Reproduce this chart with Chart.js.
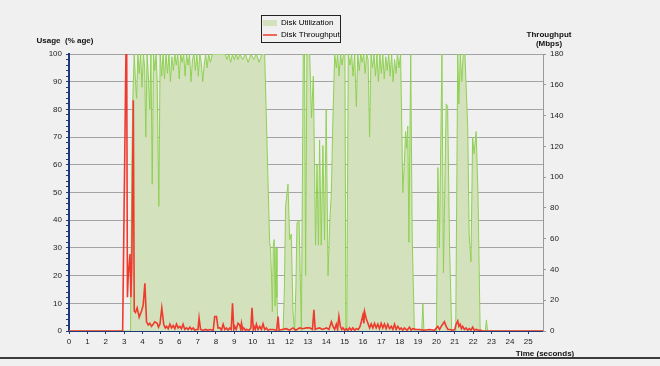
<!DOCTYPE html>
<html>
<head>
<meta charset="utf-8">
<script src="https://cdn.jsdelivr.net/npm/chart.js@4.4.1/dist/chart.umd.min.js"></script>
<style>
    html, body { margin: 0; padding: 0; background: #f0f0f0; }
    #wrap { position: relative; width: 660px; height: 366px; overflow: hidden; }
    #diskChart { position: absolute; left: 0; top: 0; }
    .axis-title { position: absolute; font: bold 8px "Liberation Sans", Arial, sans-serif; color: #111; text-align: center; white-space: nowrap; line-height: 9px; }
    #bottomRule { position: absolute; left: 0; top: 357px; width: 660px; height: 2px; background: #3c3c3c; }
</style>
</head>
<body>
<div id="wrap">
    <canvas id="diskChart" width="660" height="366"></canvas>
    <div class="axis-title" style="left:30px;top:36px;width:70px">Usage&nbsp; (% age)</div>
    <div class="axis-title" style="left:519px;top:30px;width:60px">Throughput<br>(Mbps)</div>
    <div class="axis-title" style="left:510px;top:349px;width:70px">Time (seconds)</div>
    <div id="bottomRule"></div>
</div>
<script>
// --- data (time in seconds) ---
const secondTicks = [0, 1, 2, 3, 4, 5, 6, 7, 8, 9, 10, 11, 12, 13, 14, 15, 16, 17, 18, 19, 20, 21, 22, 23, 24, 25];
const usageTicks = [0, 2, 4, 6, 8, 10, 12, 14, 16, 18, 20, 22, 24, 26, 28, 30, 32, 34, 36, 38, 40, 42, 44, 46, 48, 50,
    52, 54, 56, 58, 60, 62, 64, 66, 68, 70, 72, 74, 76, 78, 80, 82, 84, 86, 88, 90, 92, 94, 96, 98, 100];
const throughputTicks = [0, 20, 40, 60, 80, 100, 120, 140, 160, 180];

const utilTimes = [
    0, 3.35, 3.42, 3.47, 3.55, 3.62, 3.68, 3.75, 3.82, 3.9, 3.97, 4.05, 4.12, 4.18, 4.25, 4.32, 4.4, 4.46, 4.53, 4.6,
    4.67, 4.74, 4.8, 4.89, 4.96, 5.05, 5.12, 5.2, 5.28, 5.36, 5.44, 5.52, 5.6, 5.68, 5.76, 5.84, 5.92, 6.0, 6.08, 6.16,
    6.24, 6.32, 6.4, 6.48, 6.56, 6.64, 6.72, 6.8, 6.88, 6.96, 7.04, 7.12, 7.2, 7.28, 7.36, 7.44, 7.52, 7.6, 7.7, 7.8,
    8.0, 8.5, 8.6, 8.7, 8.8, 8.9, 9.0, 9.1, 9.2, 9.3, 9.45, 9.6, 9.75, 9.9, 10.05, 10.2, 10.35, 10.5, 10.65, 10.92,
    10.97, 11.02, 11.07, 11.12, 11.17, 11.22, 11.27, 11.32, 11.38, 11.65, 11.72, 11.79, 11.92, 12.01, 12.1, 12.19, 12.28, 12.35, 12.41, 12.52,
    12.65, 12.75, 12.82, 12.88, 12.95, 13.1, 13.2, 13.3, 13.42, 13.5, 13.58, 13.64, 13.73, 13.82, 13.91, 14.0, 14.1, 14.2, 14.28, 14.36,
    14.46, 14.55, 14.62, 14.7, 14.78, 14.86, 14.94, 15.02, 15.07, 15.12, 15.2, 15.3, 15.38, 15.46, 15.55, 15.64, 15.72, 15.8, 15.88, 15.96,
    16.04, 16.12, 16.2, 16.28, 16.36, 16.44, 16.52, 16.6, 16.68, 16.76, 16.84, 16.92, 17.0, 17.08, 17.16, 17.24, 17.32, 17.4, 17.48, 17.56,
    17.64, 17.72, 17.8, 17.88, 17.96, 18.05, 18.17, 18.25, 18.32, 18.38, 18.44, 18.5, 18.6, 18.68, 18.8, 19.2, 19.26, 19.32, 20.0, 20.08,
    20.16, 20.3, 20.38, 20.53, 20.61, 20.71, 20.83, 21.05, 21.16, 21.22, 21.3, 21.38, 21.46, 21.55, 21.7, 21.78, 21.88, 21.97, 22.05, 22.16,
    22.26, 22.38, 22.66, 22.72, 22.78, 25.8
];
const utilValues = [
    0, 0, 60, 83, 100, 90, 84, 100, 93, 100, 88, 100, 95, 70, 100, 92, 80, 100, 53, 100,
    94, 100, 90, 45, 100, 92, 100, 91, 100, 93, 100, 90, 99, 94, 100, 96, 100, 91, 100, 97,
    100, 92, 100, 96, 100, 90, 98, 100, 94, 100, 92, 100, 97, 90, 96, 100, 95, 100, 97, 100,
    100, 100, 98, 100, 97, 100, 98, 100, 98, 100, 98, 100, 97, 100, 98, 100, 97, 100, 100, 32,
    30, 20, 7, 31, 33, 9, 30, 12, 0, 0, 14, 45, 53, 33, 35, 7, 0, 16, 39, 40,
    0, 100, 100, 20, 100, 100, 77, 92, 31, 60, 31, 69, 31, 67, 33, 80, 20, 40, 50, 75,
    100, 95, 100, 92, 100, 96, 100, 100, 0, 0, 100, 96, 100, 92, 100, 81, 100, 94, 100, 97,
    100, 93, 100, 98, 70, 100, 95, 100, 92, 100, 90, 100, 93, 100, 91, 99, 94, 100, 92, 100,
    90, 98, 93, 100, 95, 100, 50, 60, 72, 66, 74, 32, 100, 34, 0, 0, 10, 0, 0, 59,
    30, 100, 21, 82, 81, 32, 0, 0, 100, 82, 100, 90, 100, 100, 74, 35, 25, 70, 64, 72,
    50, 0, 0, 4, 0, 0
];

const tputTimes = [
    0, 2.92, 3.1, 3.14, 3.18, 3.22, 3.32, 3.37, 3.42, 3.5, 3.55, 3.62, 3.71, 3.82, 3.95, 4.04, 4.13, 4.22, 4.31, 4.4,
    4.49, 4.58, 4.67, 4.8, 4.87, 4.95, 5.05, 5.16, 5.24, 5.31, 5.4, 5.49, 5.58, 5.67, 5.76, 5.85, 5.94, 6.03, 6.12, 6.21,
    6.3, 6.4, 6.49, 6.58, 6.67, 6.76, 6.85, 6.94, 7.02, 7.08, 7.16, 7.3, 7.45, 7.55, 7.66, 7.85, 7.93, 8.03, 8.11, 8.21,
    8.3, 8.39, 8.48, 8.57, 8.66, 8.75, 8.83, 8.9, 8.97, 9.02, 9.1, 9.2, 9.29, 9.35, 9.39, 9.45, 9.51, 9.6, 9.66, 9.8,
    9.9, 9.96, 10.03, 10.07, 10.14, 10.2, 10.29, 10.38, 10.47, 10.56, 10.65, 10.74, 10.83, 10.92, 11.1, 11.3, 11.38, 11.44, 11.6, 11.83,
    12.0, 12.19, 12.35, 12.55, 12.73, 12.92, 13.1, 13.25, 13.33, 13.4, 13.46, 13.64, 13.8, 14.01, 14.15, 14.28, 14.37, 14.46, 14.55, 14.62,
    14.69, 14.77, 14.84, 14.91, 15.0, 15.09, 15.18, 15.27, 15.36, 15.45, 15.55, 15.64, 15.75, 15.84, 15.91, 16.0, 16.05, 16.09, 16.18, 16.27,
    16.36, 16.45, 16.54, 16.63, 16.72, 16.81, 16.9, 16.99, 17.08, 17.17, 17.26, 17.35, 17.45, 17.54, 17.63, 17.72, 17.81, 17.9, 18.0, 18.08,
    18.17, 18.26, 18.4, 18.53, 18.62, 18.71, 18.9, 19.08, 19.3, 19.62, 19.9, 20.07, 20.17, 20.26, 20.34, 20.43, 20.53, 20.62, 20.71, 20.89,
    21.0, 21.07, 21.16, 21.22, 21.29, 21.36, 21.43, 21.52, 21.61, 21.7, 21.79, 21.88, 21.97, 22.06, 22.16, 22.3, 22.43, 22.5, 25.8
];
const tputValues = [
    0, 0, 180, 180, 22, 35, 50, 22, 45, 150, 13, 12, 15, 9, 13, 17, 31, 6, 4, 5,
    3, 4.4, 6, 5, 2.5, 4.4, 15, 4, 2, 3, 1.5, 4.4, 2, 3.5, 1.5, 4.6, 2, 3, 1.5, 4.4,
    1, 2, 1, 2.5, 1, 2, 0.5, 1, 1, 8.5, 1, 0.5, 1, 0.5, 1, 0.5, 9.4, 9.4, 2, 2,
    0.5, 4.4, 1, 2, 0.5, 2, 1, 18, 1, 3, 1, 5, 4, 1, 5, 1, 2, 0.5, 1, 0.5,
    2, 15, 1, 3, 1, 4.4, 1, 3, 1, 4.6, 1, 2, 0.5, 1, 1, 0.5, 9.4, 0.5, 1, 1.5,
    0.5, 2, 0.5, 2, 1.5, 2, 2, 1, 13.7, 1, 1.5, 2, 1, 2, 1, 6, 3, 1, 4.4, 1,
    9.4, 3, 1, 2, 0.5, 1.5, 0.5, 2, 0.5, 2, 0.5, 1.5, 1, 3, 6, 10.5, 5, 12.6, 8, 5,
    2, 4.6, 2, 5, 2, 4.4, 1.5, 5, 2, 4.6, 1.5, 4.4, 1.5, 3, 1, 4.4, 1, 3, 1, 2,
    0.5, 2, 0.5, 2.5, 0.5, 1.5, 1, 1, 0.5, 1, 0.5, 3, 1, 3, 4.4, 6, 3, 1, 1, 0.5,
    1, 4.4, 6.5, 3, 4.4, 1.5, 3, 1, 2, 0.5, 1.5, 0.5, 2.5, 0.5, 1, 0.5, 0.5, 0, 0
];

const utilLine = '#8fd052';
const utilFill = '#d3e1bd';
const tputColor = '#ee3b2e';
const axisNavy = '#1f3a7a';
const tickFont = { family: '"Liberation Sans", Arial, sans-serif', size: 8 };

// legend sits above the plot, boxed like the original
const legendFrame = {
    id: 'legendFrame',
    afterLayout(chart) {
        const lg = chart.legend;
        lg.left = 259;
        lg.top = 15;
        lg.right = 345;
        lg.bottom = 44;
    },
    afterDraw(chart) {
        const ctx = chart.ctx;
        ctx.save();
        ctx.strokeStyle = '#222';
        ctx.lineWidth = 1;
        ctx.strokeRect(261.5, 15.5, 79, 27);
        ctx.restore();
    }
};

new Chart(document.getElementById('diskChart'), {
    type: 'line',
    data: {
        datasets: [{
            label: 'Disk Utilization',
            data: utilTimes.map((t, i) => ({ x: t, y: utilValues[i] })),
            yAxisID: 'y',
            borderColor: utilLine,
            backgroundColor: utilFill,
            borderWidth: 1,
            fill: 'origin',
            pointRadius: 0,
            tension: 0,
            order: 2
        }, {
            label: 'Disk Throughput',
            data: tputTimes.map((t, i) => ({ x: t, y: tputValues[i] })),
            yAxisID: 'y1',
            borderColor: tputColor,
            borderWidth: 1.6,
            fill: false,
            pointRadius: 0,
            tension: 0,
            order: 1
        }]
    },
    options: {
        responsive: false,
        animation: false,
        layout: { padding: { left: 0, right: 0, top: 54, bottom: 0 } },
        plugins: {
            tooltip: { enabled: false },
            legend: {
                position: 'chartArea',
                align: 'start',
                labels: {
                    usePointStyle: true,
                    pointStyleWidth: 14,
                    boxHeight: 6,
                    padding: 4,
                    color: '#111',
                    font: { family: '"Liberation Sans", Arial, sans-serif', size: 8 },
                    generateLabels: () => [
                        { text: 'Disk Utilization', pointStyle: 'rect', fillStyle: utilFill, strokeStyle: utilFill, lineWidth: 0, datasetIndex: 0 },
                        { text: 'Disk Throughput', pointStyle: 'line', fillStyle: tputColor, strokeStyle: tputColor, lineWidth: 1.5, datasetIndex: 1 }
                    ]
                }
            }
        },
        scales: {
            x: {
                type: 'linear',
                min: 0,
                max: 25.8,
                afterFit: s => { s.height = 35; },
                afterBuildTicks: axis => { axis.ticks = secondTicks.map(v => ({ value: v })); },
                border: { color: axisNavy, width: 1 },
                grid: { drawOnChartArea: false, tickLength: 3, tickColor: axisNavy },
                ticks: { autoSkip: false, maxRotation: 0, padding: 3, color: '#222', font: tickFont }
            },
            y: {
                position: 'left',
                min: 0,
                max: 100,
                afterFit: s => { s.width = 69; },
                afterBuildTicks: axis => { axis.ticks = usageTicks.map(v => ({ value: v })); },
                border: { color: axisNavy, width: 2 },
                grid: {
                    color: c => (c.tick && c.tick.value % 10 === 0) ? '#a4a4a4' : 'rgba(0,0,0,0)',
                    tickColor: axisNavy,
                    tickLength: 3
                },
                ticks: { autoSkip: false, padding: 4, color: '#222', font: tickFont, callback: v => (v % 10 === 0 ? v : '') }
            },
            y1: {
                position: 'right',
                min: 0,
                max: 180,
                afterFit: s => { s.width = 117; },
                afterBuildTicks: axis => { axis.ticks = throughputTicks.map(v => ({ value: v })); },
                border: { color: '#9a9a9a', width: 1 },
                grid: { drawOnChartArea: false, tickColor: '#9a9a9a', tickLength: 3 },
                ticks: { autoSkip: false, padding: 4, color: '#222', font: tickFont }
            }
        }
    },
    plugins: [legendFrame]
});
</script>
</body>
</html>
